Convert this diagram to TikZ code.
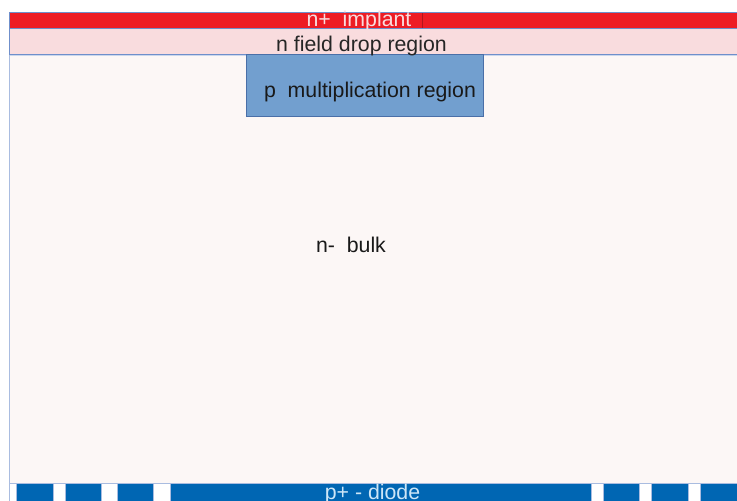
\documentclass[tikz,border=0pt]{standalone}
\usepackage{fontspec}
\setmainfont{Liberation Sans}
\definecolor{implred}{HTML}{ED1C24}
\definecolor{droppink}{HTML}{F9DCDE}
\definecolor{bulkwhite}{HTML}{FCF7F6}
\definecolor{multblue}{HTML}{729FCF}
\definecolor{diodeblue}{HTML}{0066B3}
\definecolor{edgeblue}{HTML}{6F8FCB}
\definecolor{darkedge}{HTML}{4A6FA8}
\definecolor{lightedge}{HTML}{A9BCE0}
\definecolor{diodetext}{HTML}{CDE6F7}
\tikzset{
  lbl/.style={font=\fontsize{21.3}{25}\selectfont, inner sep=0pt, anchor=base},
  layer/.style={draw=edgeblue, line width=0.9pt},
  diodebox/.style={fill=diodeblue, draw=lightedge, line width=0.6pt},
}
\begin{document}
\begin{tikzpicture}[x=1pt,y=-1pt]
\useasboundingbox (0,0) rectangle (737,501);
\fill[white] (0,0) rectangle (737,501);
\clip (0,0) rectangle (737,501);
% bulk
\fill[bulkwhite] (9,54) rectangle (745,483);
\draw[lightedge, line width=0.9pt] (9.5,54) -- (9.5,501);
\draw[lightedge, line width=0.9pt] (9,483) -- (745,483);
\draw[lightedge!60, line width=1.5pt] (10,55.5) -- (745,55.5);
% n+ implant
\draw[layer, fill=implred] (9,12.7) rectangle (745,28);
\draw[implred!75!black, line width=0.6pt] (422.7,13) -- (422.7,28);
% n field drop
\draw[layer, fill=droppink] (9,28) rectangle (745,54);
% p multiplication
\draw[fill=multblue, draw=darkedge, line width=0.9pt] (246,54) rectangle (483,116.7);
% diodes
\draw[diodebox] (16.7,483) rectangle (53.3,505);
\draw[diodebox] (65.7,483) rectangle (101.3,505);
\draw[diodebox] (117.7,483) rectangle (153.3,505);
\draw[diodebox] (170,483) rectangle (591,505);
\draw[diodebox] (603.3,483) rectangle (639.3,505);
\draw[diodebox] (651.7,483) rectangle (688.3,505);
\draw[diodebox] (700,483) rectangle (745,505);
% labels
\node[lbl, text=droppink] (implant) at (359,26) {n+~~implant};
\node[lbl, text=black!85] (drop) at (361.5,51) {n field drop region};
\node[lbl, text=black!90] (mult) at (370,97) {p~~multiplication region};
\node[lbl, text=black!90] (bulk) at (351,252) {n-~~bulk};
\node[lbl, text=diodetext] (diode) at (372.5,499.5) {p+ - diode};
\end{tikzpicture}
\end{document}
